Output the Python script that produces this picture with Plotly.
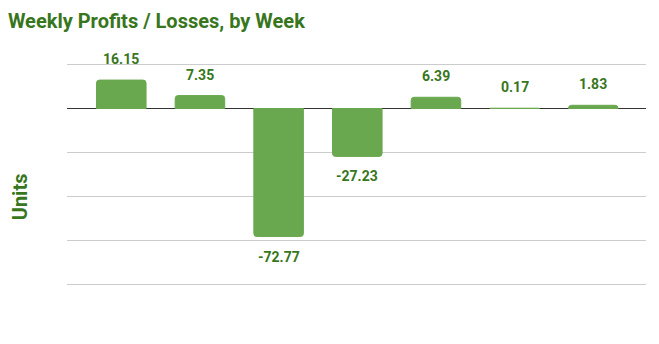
import plotly.graph_objects as go

weeks = ["Week 1", "Week 2", "Week 3", "Week 4", "Week 5", "Week 6", "Week 7"]
profits = [16.15, 7.35, -72.77, -27.23, 6.39, 0.17, 1.83]
labels = ["16.15", "7.35", "-72.77", "-27.23", "6.39", "0.17", "1.83"]

BAR = "#6aa84f"
DARK = "#38761d"
FONT = "Roboto"

fig = go.Figure()
fig.add_trace(go.Bar(
    x=list(range(len(weeks))), y=profits, marker_color=BAR, width=0.63,
    marker_line=dict(color=BAR, width=1),
    hovertext=weeks, showlegend=False,
))

for i, (v, t) in enumerate(zip(profits, labels)):
    fig.add_annotation(
        x=i, y=v, text=f"<b>{t}</b>", showarrow=False,
        yshift=21 if v >= 0 else -20,
        font=dict(family=FONT, size=14, color=DARK),
    )

fig.add_annotation(
    xref="paper", yref="paper", x=-0.081, y=0.40, text="<b>Units</b>",
    textangle=-90, showarrow=False, xanchor="center", yanchor="middle",
    font=dict(family=FONT, size=20, color=DARK),
)

fig.update_layout(
    width=659, height=344,
    margin=dict(l=67, r=13, t=61, b=56),
    paper_bgcolor="white", plot_bgcolor="white",
    barcornerradius=3,
    title=dict(text="<b>Weekly Profits / Losses, by Week</b>", x=0.012, xanchor="left",
               y=0.94, yanchor="middle",
               font=dict(family=FONT, size=20, color=DARK)),
    xaxis=dict(range=[-0.69, 6.67], showticklabels=False, showgrid=False,
               zeroline=False, showline=False, ticks=""),
    yaxis=dict(range=[-102, 27], dtick=25, tick0=0, showticklabels=False,
               gridcolor="#cccccc", gridwidth=1,
               zeroline=True, zerolinecolor="#333333", zerolinewidth=1,
               showline=False, ticks=""),
)

fig.write_html("out.html")
